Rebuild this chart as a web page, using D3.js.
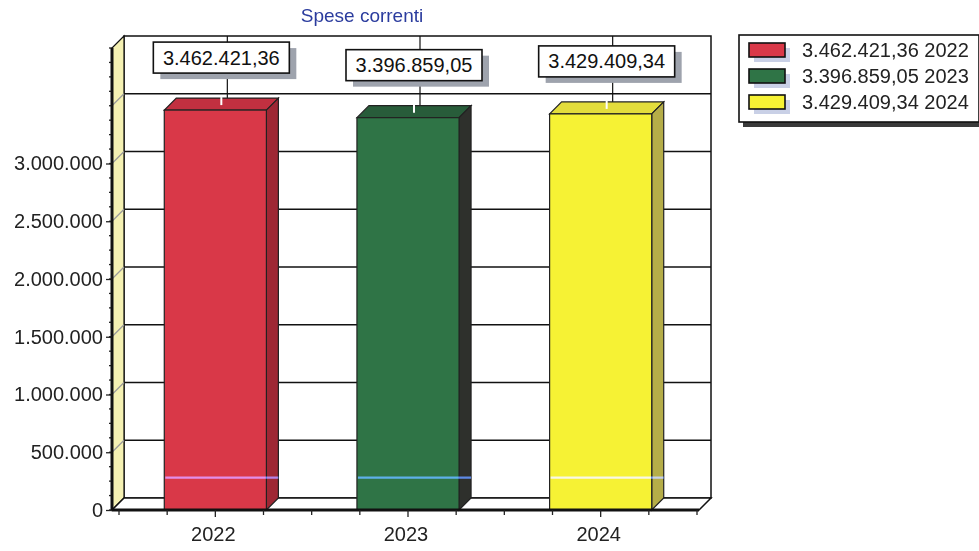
<!DOCTYPE html>
<html>
<head>
<meta charset="utf-8">
<script src="https://cdn.jsdelivr.net/npm/d3@7"></script>
<style>
  html, body { margin: 0; padding: 0; background: #fff; }
  svg { display: block; font-family: "Liberation Sans", Arial, sans-serif; }
</style>
</head>
<body>
<svg id="chart" width="979" height="551"></svg>
<script>
// Spese correnti per anno
const categories = ["2022", "2023", "2024"];
const values = [3462421.36, 3396859.05, 3429409.34];
const yTickLabels = [0, 500000, 1000000, 1500000, 2000000, 2500000, 3000000];
const gridValues = [500000, 1000000, 1500000, 2000000, 2500000, 3000000, 3500000];
const yMax = 4000000;
const markerValue = 280000;

const frontColors = ["#d93848", "#2f7446", "#f6f234"];
const topColors   = ["#c23040", "#285c3a", "#e3dd3c"];
const sideColors  = ["#9e2734", "#2e302c", "#b5ad48"];

const locale = d3.formatLocale({ decimal: ",", thousands: ".", grouping: [3], currency: ["€", ""] });
const fmtInt = locale.format(",.0f");
const fmtDec = locale.format(",.2f");

const svg = d3.select("#chart");

// Plot frame (front plane) and 3D depth offset
const plotLeft = 112, plotRight = 699, plotBottom = 510, plotTop = 48;
const dx = 12, dy = -12;

const y = d3.scaleLinear().domain([0, yMax]).range([plotBottom, plotTop]);
const x = d3.scaleBand().domain(categories).range([119, 697]).paddingInner(0.47).paddingOuter(0.235);
const xCenter = d3.scalePoint().domain(categories).range([119, 697]).padding(0.5);
const step = (697 - 119) / categories.length;

// Title
svg.append("text")
  .attr("x", 362).attr("y", 22)
  .attr("text-anchor", "middle")
  .attr("font-size", 19)
  .attr("fill", "#2b3c9e")
  .text("Spese correnti");

// Back wall
svg.append("rect")
  .attr("x", plotLeft + dx).attr("y", plotTop + dy)
  .attr("width", plotRight - plotLeft).attr("height", plotBottom - plotTop)
  .attr("fill", "#fff").attr("stroke", "#111").attr("stroke-width", 1.5);

// Left side wall
svg.append("polygon")
  .attr("points", [[plotLeft, plotTop], [plotLeft + dx, plotTop + dy], [plotLeft + dx, plotBottom + dy], [plotLeft, plotBottom]].join(" "))
  .attr("fill", "#f5f1b3").attr("stroke", "#111").attr("stroke-width", 1.2);

// Floor
svg.append("polygon")
  .attr("points", [[plotLeft, plotBottom], [plotLeft + dx, plotBottom + dy], [plotRight + dx, plotBottom + dy], [plotRight, plotBottom]].join(" "))
  .attr("fill", "#fff").attr("stroke", "#111").attr("stroke-width", 1.5);

// Horizontal gridlines on the back wall and slashes across the side wall
svg.append("g").selectAll("line").data(gridValues).join("line")
  .attr("x1", plotLeft + dx).attr("x2", plotRight + dx)
  .attr("y1", d => y(d) + dy).attr("y2", d => y(d) + dy)
  .attr("stroke", "#111").attr("stroke-width", 1.3);
svg.append("g").selectAll("line").data(gridValues).join("line")
  .attr("x1", plotLeft).attr("x2", plotLeft + dx)
  .attr("y1", d => y(d)).attr("y2", d => y(d) + dy)
  .attr("stroke", "#9a9a9a").attr("stroke-width", 1.2);

// Vertical category lines on the back wall
svg.append("g").selectAll("line").data(categories).join("line")
  .attr("x1", d => xCenter(d) + dx).attr("x2", d => xCenter(d) + dx)
  .attr("y1", plotTop + dy).attr("y2", plotBottom + dy)
  .attr("stroke", "#111").attr("stroke-width", 1.2);

// Bars (front, top, side faces)
const bw = x.bandwidth();
const bars = svg.append("g").selectAll("g").data(categories).join("g");
bars.append("polygon")
  .attr("points", (d, i) => {
    const x0 = x(d), y0 = y(values[i]);
    return [[x0, y0], [x0 + dx, y0 + dy], [x0 + bw + dx, y0 + dy], [x0 + bw, y0]].join(" ");
  })
  .attr("fill", (d, i) => topColors[i]).attr("stroke", "#222").attr("stroke-width", 1.2);
bars.append("polygon")
  .attr("points", (d, i) => {
    const x1 = x(d) + bw, y0 = y(values[i]);
    return [[x1, y0], [x1 + dx, y0 + dy], [x1 + dx, plotBottom + dy], [x1, plotBottom]].join(" ");
  })
  .attr("fill", (d, i) => sideColors[i]).attr("stroke", "#222").attr("stroke-width", 1.2);
bars.append("rect")
  .attr("x", d => x(d)).attr("y", (d, i) => y(values[i]))
  .attr("width", bw).attr("height", (d, i) => plotBottom - y(values[i]))
  .attr("fill", (d, i) => frontColors[i]).attr("stroke", "#222").attr("stroke-width", 1.2);
// thin light line across each bar
bars.append("line")
  .attr("x1", d => x(d) + 1).attr("x2", d => x(d) + bw + dx)
  .attr("y1", y(markerValue)).attr("y2", y(markerValue))
  .attr("stroke", "#3a6ee0").attr("stroke-width", 2.2)
  .style("mix-blend-mode", "screen");
// notch where the label connector meets the bar top
bars.append("line")
  .attr("x1", d => xCenter(d) + dx / 2).attr("x2", d => xCenter(d) + dx / 2)
  .attr("y1", (d, i) => y(values[i]) + dy - 1).attr("y2", (d, i) => y(values[i]) + dy + 7)
  .attr("stroke", "#fff").attr("stroke-width", 2);

// Value labels above bars
const boxW = 136, boxH = 31;
const labels = svg.append("g").selectAll("g").data(categories).join("g")
  .attr("transform", (d, i) => `translate(${xCenter(d) + dx / 2 - boxW / 2},${y(values[i]) + dy - 25 - boxH})`);
labels.append("rect")
  .attr("x", 7).attr("y", 6).attr("width", boxW).attr("height", boxH)
  .attr("fill", "#9ea3ad");
labels.append("rect")
  .attr("width", boxW).attr("height", boxH)
  .attr("fill", "#fff").attr("stroke", "#111").attr("stroke-width", 1.6);
labels.append("text")
  .attr("x", boxW / 2).attr("y", boxH / 2 + 7)
  .attr("text-anchor", "middle")
  .attr("font-size", 20).attr("fill", "#111")
  .text((d, i) => fmtDec(values[i]));

// Y axis
const yAxis = svg.append("g")
  .attr("transform", `translate(${plotLeft},0)`)
  .call(d3.axisLeft(y).tickValues(yTickLabels).tickFormat(fmtInt).tickSize(6).tickPadding(3));
yAxis.select(".domain").remove();
yAxis.selectAll("text").attr("font-size", 20).attr("fill", "#222")
  .attr("font-family", "'Liberation Sans', Arial, sans-serif");
yAxis.selectAll(".tick line").attr("stroke", "#222").attr("stroke-width", 1.3);
// minor ticks
svg.append("g").selectAll("line").data(d3.range(0, yMax + 1, 125000)).join("line")
  .attr("x1", plotLeft - 3).attr("x2", plotLeft)
  .attr("y1", d => y(d)).attr("y2", d => y(d))
  .attr("stroke", "#222").attr("stroke-width", 1.3);
svg.append("line")
  .attr("x1", plotLeft).attr("x2", plotLeft).attr("y1", plotTop).attr("y2", plotBottom)
  .attr("stroke", "#111").attr("stroke-width", 3);

// X axis
svg.append("line")
  .attr("x1", plotLeft).attr("x2", plotRight).attr("y1", plotBottom).attr("y2", plotBottom)
  .attr("stroke", "#111").attr("stroke-width", 3);
svg.append("g").selectAll("line").data(d3.range(0, categories.length * 4 + 1)).join("line")
  .attr("x1", k => 119 + k * step / 4).attr("x2", k => 119 + k * step / 4)
  .attr("y1", plotBottom).attr("y2", k => plotBottom + (k % 4 === 2 ? 7 : 5))
  .attr("stroke", "#222").attr("stroke-width", 1.3);
svg.append("g").selectAll("text").data(categories).join("text")
  .attr("x", d => xCenter(d) - 2).attr("y", 541)
  .attr("text-anchor", "middle")
  .attr("font-size", 20).attr("fill", "#222")
  .text(d => d);

// Legend
const legend = svg.append("g").attr("transform", "translate(739,35)");
legend.append("rect").attr("x", 4).attr("y", 5).attr("width", 240).attr("height", 87).attr("fill", "#3a3a3a");
legend.append("rect").attr("width", 240).attr("height", 87)
  .attr("fill", "#fff").attr("stroke", "#111").attr("stroke-width", 1.6);
const items = legend.selectAll("g.item").data(categories).join("g")
  .attr("class", "item")
  .attr("transform", (d, i) => `translate(10,${8 + i * 26})`);
items.append("rect").attr("x", 5).attr("y", 5).attr("width", 36).attr("height", 14).attr("fill", "#c9d0e6");
items.append("rect").attr("width", 36).attr("height", 14)
  .attr("fill", (d, i) => frontColors[i]).attr("stroke", "#111").attr("stroke-width", 1.6);
items.append("text")
  .attr("x", 53).attr("y", 14)
  .attr("font-size", 20).attr("fill", "#222")
  .text((d, i) => `${fmtDec(values[i])} ${d}`);
</script>
</body>
</html>
